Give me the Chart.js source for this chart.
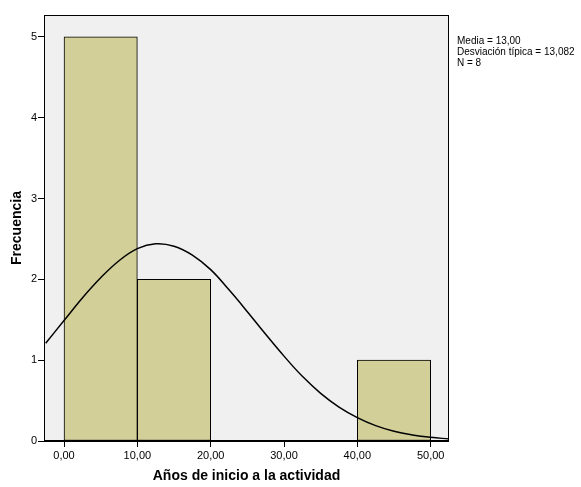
<!DOCTYPE html>
<html>
<head>
<meta charset="utf-8">
<script src="https://cdn.jsdelivr.net/npm/chart.js@4.4.1/dist/chart.umd.min.js"></script>
<style>
  html, body { margin: 0; padding: 0; background: #fff; }
  #wrap { width: 581px; height: 487px; }
</style>
</head>
<body>
<div id="wrap"><canvas id="histo" width="581" height="487"></canvas></div>
<script>
// histogram bins (centre of bin, frequency)
const binCentres = [5, 15, 45]
const frequencies = [5, 2, 1]
const xTickValues = [0, 10, 20, 30, 40, 50]
const yTickValues = [0, 1, 2, 3, 4, 5]

// normal curve, values
const curveX = [-2.5, 0, 2.5, 5, 7.5, 10, 12.5, 15, 17.5, 20, 22.5, 25, 27.5, 30, 32.5, 35, 37.5, 40, 42.5, 45, 47.5, 50, 52.5]
const curveY = [1.21, 1.49, 1.77, 2.02, 2.23, 2.38, 2.44, 2.41, 2.30, 2.12, 1.87, 1.60, 1.32, 1.05, 0.80, 0.59, 0.42, 0.29, 0.19, 0.12, 0.075, 0.045, 0.026]

const statsLines = ['Media = 13,00', 'Desviación típica = 13,082', 'N = 8']

const fuente = 'Liberation Sans, Arial, sans-serif'

const marco = {
    id: 'marco',
    beforeDatasetsDraw(chart) {
        const { ctx, chartArea: a } = chart
        ctx.save()
        ctx.fillStyle = '#f0f0f0'
        ctx.fillRect(a.left, a.top, a.right - a.left, a.bottom - a.top)
        ctx.restore()
    },
    afterDraw(chart) {
        const { ctx, chartArea: a } = chart
        ctx.save()
        ctx.strokeStyle = '#000'
        ctx.lineWidth = 1
        ctx.strokeRect(a.left + 0.5, a.top + 0.5, a.right - a.left - 1, a.bottom - a.top)
        ctx.lineWidth = 2
        ctx.beginPath()
        ctx.moveTo(a.left, a.bottom)
        ctx.lineTo(a.right, a.bottom)
        ctx.stroke()
        ctx.fillStyle = '#000'
        ctx.font = '10px ' + fuente
        ctx.textBaseline = 'middle'
        statsLines.forEach((t, i) => ctx.fillText(t, a.right + 8, 41 + i * 11))
        ctx.restore()
    }
}

new Chart('histo', {
    type: 'bar',
    data: {
        datasets: [{
            type: 'line',
            order: 1,
            data: curveX.map((x, i) => ({ x: x, y: curveY[i] })),
            borderColor: '#000',
            borderWidth: 1.5,
            pointRadius: 0,
            tension: 0.4,
            fill: false
        }, {
            type: 'bar',
            order: 2,
            data: binCentres.map((x, i) => ({ x: x, y: frequencies[i] })),
            backgroundColor: '#d3cf98',
            borderColor: '#000',
            borderWidth: 1,
            borderSkipped: false,
            barPercentage: 1,
            categoryPercentage: 1
        }]
    },
    options: {
        responsive: false,
        animation: false,
        layout: { padding: { left: 0, top: 15, right: 132, bottom: 0 } },
        plugins: { legend: { display: false }, tooltip: { enabled: false } },
        scales: {
            x: {
                type: 'linear',
                offset: false,
                min: -2.73,
                max: 52.5,
                afterBuildTicks: (s) => { s.ticks = xTickValues.map(v => ({ value: v })) },
                afterFit: (s) => { s.height = 46 },
                grid: { offset: false, drawOnChartArea: false, color: '#000', tickLength: 6 },
                border: { display: false },
                ticks: {
                    color: '#000',
                    padding: 2,
                    maxRotation: 0,
                    font: { family: fuente, size: 11 },
                    callback: (v) => v.toFixed(2).replace('.', ',')
                },
                title: {
                    display: true,
                    text: 'Años de inicio a la actividad',
                    color: '#000',
                    font: { family: fuente, size: 14, weight: 'bold' },
                    padding: { top: 0, bottom: 2.6 }
                }
            },
            y: {
                min: 0,
                max: 5.27,
                afterBuildTicks: (s) => { s.ticks = yTickValues.map(v => ({ value: v })) },
                afterFit: (s) => { s.width = 44 },
                grid: { drawOnChartArea: false, color: '#000', tickLength: 6 },
                border: { display: false },
                ticks: {
                    color: '#000',
                    padding: 1,
                    font: { family: fuente, size: 11 }
                },
                title: {
                    display: true,
                    text: 'Frecuencia',
                    color: '#000',
                    font: { family: fuente, size: 14, weight: 'bold' },
                    padding: { top: 8.6, bottom: 0 }
                }
            }
        }
    },
    plugins: [marco]
})
</script>
</body>
</html>
